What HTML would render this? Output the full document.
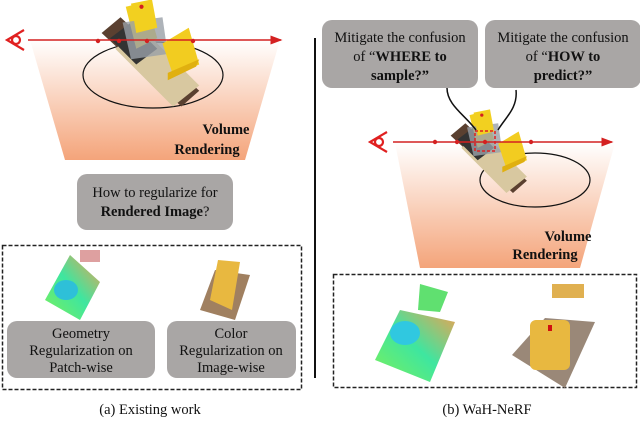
<!DOCTYPE html>
<html><head><meta charset="utf-8"><style>
html,body{margin:0;padding:0;background:#fff;width:640px;height:421px;overflow:hidden}
svg{display:block}
text{font-family:"Liberation Serif",serif;fill:#111}
</style></head><body>
<svg width="640" height="421" viewBox="0 0 640 421" xmlns="http://www.w3.org/2000/svg">
<defs>
<linearGradient id="og" x1="0" y1="0" x2="0" y2="1">
<stop offset="0" stop-color="#fff" stop-opacity="1"/>
<stop offset="1" stop-color="#f4a47a"/>
</linearGradient>
<linearGradient id="dg" x1="0" y1="1" x2="1" y2="0">
<stop offset="0" stop-color="#7cf05a"/>
<stop offset="0.5" stop-color="#3ee6a0"/>
<stop offset="1" stop-color="#f0a050"/>
</linearGradient>
<marker id="ar" markerWidth="8" markerHeight="6" refX="7" refY="3" orient="auto"><path d="M0,0 L8,3 L0,6 z" fill="#d42020"/></marker>
<g id="lego">
<polygon points="-48,-20 -30,-35 45,35 28,50" fill="#5a4030"/>
<polygon points="-35,-5 -10,-25 45,30 20,50" fill="#d8c8a0"/>
<polygon points="-40,-15 -20,-30 5,-5 -15,10" fill="#333"/>
<polygon points="-25,-45 -5,-50 5,-15 -15,-5" fill="#f2d020"/>
<polygon points="-28,-30 10,-35 15,0 -20,5" fill="#9aa0a8" opacity="0.8"/>
<polygon points="-20,-48 0,-52 5,-25 -15,-20" fill="#f2d020"/>
<polygon points="10,-10 35,-25 45,10 20,20" fill="#f2cc20"/>
<polygon points="15,18 45,5 42,12 15,25" fill="#e0b010"/>
<circle cx="-10" cy="-45" r="2" fill="#d42020"/>
</g>
</defs>

<!-- LEFT -->
<polygon points="30,40 280,40 245,160 65,160" fill="url(#og)"/>
<ellipse cx="153" cy="75" rx="70" ry="33" fill="none" stroke="#111" stroke-width="1.2"/>
<use href="#lego" transform="translate(152 54) scale(1.05)"/>
<line x1="28" y1="40" x2="281" y2="40" stroke="#d42020" stroke-width="1.5" marker-end="url(#ar)"/>
<g fill="#d42020"><circle cx="98" cy="41" r="2.2"/><circle cx="119" cy="41" r="2.2"/><circle cx="147" cy="41" r="2.2"/><circle cx="193" cy="41" r="2.2"/></g>
<g stroke="#e02020" stroke-width="2.2" fill="none"><path d="M24,30 L7,40 L24,50"/><circle cx="16" cy="40" r="4"/></g>
<text x="226" y="134" font-size="14.5" font-weight="bold" text-anchor="middle">Volume</text>
<text x="207" y="154" font-size="14.5" font-weight="bold" text-anchor="middle">Rendering</text>
<rect x="77" y="174" width="156" height="56" rx="10" fill="#a9a6a5"/>
<text x="155" y="197" font-size="14.5" text-anchor="middle">How to regularize for</text>
<text x="155" y="216" font-size="14.5" text-anchor="middle"><tspan font-weight="bold">Rendered Image</tspan>?</text>

<rect x="2.5" y="245.5" width="299" height="144" fill="none" stroke="#222" stroke-width="1.5" stroke-dasharray="4,2"/>
<polygon points="45,300 70,255 100,282 80,320" fill="url(#dg)"/>
<ellipse cx="66" cy="290" rx="12" ry="10" fill="#2ec0d8"/>
<rect x="80" y="250" width="20" height="12" fill="#c86060" opacity="0.6"/>
<polygon points="200,310 215,270 250,275 235,320" fill="#a08060"/>
<polygon points="210,300 218,260 240,262 232,310" fill="#e8b840"/>
<rect x="7" y="321" width="148" height="57" rx="10" fill="#a9a6a5"/>
<text x="81" y="338" font-size="14.5" text-anchor="middle">Geometry</text>
<text x="81" y="355" font-size="14.5" text-anchor="middle">Regularization on</text>
<text x="81" y="372" font-size="14.5" text-anchor="middle">Patch-wise</text>
<rect x="167" y="321" width="129" height="57" rx="10" fill="#a9a6a5"/>
<text x="231" y="338" font-size="14.5" text-anchor="middle">Color</text>
<text x="231" y="355" font-size="14.5" text-anchor="middle">Regularization on</text>
<text x="231" y="372" font-size="14.5" text-anchor="middle">Image-wise</text>
<text x="150" y="414" font-size="14.5" text-anchor="middle">(a) Existing work</text>

<line x1="315" y1="38" x2="315" y2="378" stroke="#111" stroke-width="2"/>

<!-- RIGHT -->
<polygon points="395,143 615,143 580,268 420,268" fill="url(#og)"/>
<ellipse cx="535" cy="180" rx="55" ry="27" fill="none" stroke="#111" stroke-width="1.2"/>
<use href="#lego" transform="translate(490 152) scale(0.82)"/>
<line x1="393" y1="142" x2="612" y2="142" stroke="#d42020" stroke-width="1.5" marker-end="url(#ar)"/>
<g fill="#d42020"><circle cx="435" cy="142" r="2.2"/><circle cx="457" cy="142" r="2.2"/><circle cx="485" cy="142" r="2.2"/><circle cx="531" cy="142" r="2.2"/></g>
<rect x="475" y="131" width="20" height="20" fill="none" stroke="#e02020" stroke-width="1.5" stroke-dasharray="3,2"/>
<g stroke="#e02020" stroke-width="2.2" fill="none"><path d="M387,132 L370,142 L387,152"/><circle cx="379" cy="142" r="4"/></g>
<path d="M447,88 C447,105 465,115 476,130" fill="none" stroke="#111" stroke-width="1.5"/>
<path d="M516,90 C518,108 505,118 498,130" fill="none" stroke="#111" stroke-width="1.5"/>
<text x="568" y="241" font-size="14.5" font-weight="bold" text-anchor="middle">Volume</text>
<text x="545" y="259" font-size="14.5" font-weight="bold" text-anchor="middle">Rendering</text>
<rect x="322" y="20" width="156" height="68" rx="10" fill="#a9a6a5"/>
<text x="400" y="42" font-size="14.5" text-anchor="middle">Mitigate the confusion</text>
<text x="400" y="61" font-size="14.5" text-anchor="middle">of “<tspan font-weight="bold">WHERE to</tspan></text>
<text x="400" y="80" font-size="14.5" text-anchor="middle" font-weight="bold">sample?”</text>
<rect x="485" y="20" width="156" height="68" rx="10" fill="#a9a6a5"/>
<text x="563" y="42" font-size="14.5" text-anchor="middle">Mitigate the confusion</text>
<text x="563" y="61" font-size="14.5" text-anchor="middle">of “<tspan font-weight="bold">HOW to</tspan></text>
<text x="563" y="80" font-size="14.5" text-anchor="middle" font-weight="bold">predict?”</text>

<rect x="333.5" y="274.5" width="303" height="113" fill="none" stroke="#222" stroke-width="1.5" stroke-dasharray="4,2"/>
<polygon points="375,360 400,310 455,322 430,382" fill="url(#dg)"/>
<ellipse cx="405" cy="333" rx="15" ry="12" fill="#30c8e0"/>
<polygon points="418,310 420,284 448,292 440,312" fill="#60e070"/>
<polygon points="512,355 545,318 595,322 565,388" fill="#9a8878"/>
<rect x="530" y="320" width="40" height="50" rx="6" fill="#e8b840"/>
<rect x="552" y="284" width="32" height="14" fill="#e0b050"/>
<rect x="548" y="325" width="4" height="6" fill="#d01010"/>
<text x="487" y="414" font-size="14.5" text-anchor="middle">(b) WaH-NeRF</text>
</svg>
</body></html>
